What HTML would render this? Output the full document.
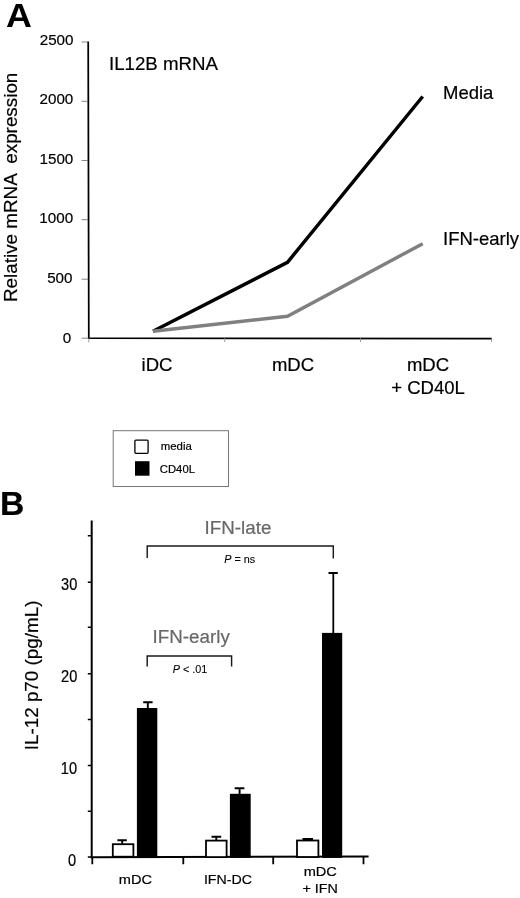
<!DOCTYPE html>
<html><head><meta charset="utf-8">
<style>
html,body{margin:0;padding:0;background:#fff;}
svg{display:block;}
text{font-family:"Liberation Sans",sans-serif;fill:#000;stroke:#000;stroke-width:0.2px;}
.sm text{stroke-width:0.1px;}
</style></head>
<body>
<svg width="520" height="898" viewBox="0 0 520 898">
<rect width="520" height="898" fill="#fff"/>
<!-- Panel A -->
<text transform="translate(6,27) scale(1.07,1)" x="0" y="0" font-size="33.500" font-weight="bold" style="stroke:none">A</text>
<g stroke="#000" stroke-width="1.750" fill="none" stroke-linejoin="miter">
<path d="M88.200 41.600L88.800 338.100L492 338.600"/>
</g>
<g stroke="#666" stroke-width="0.800" fill="none">
<path d="M81.500 42H88M81.500 101.300H88M81.500 160.500H88M81.500 219.700H88M81.700 279.200H88.300M81.700 338.200H88.300"/>
<path d="M88.800 338V342.500M224.700 338V342M360.500 338V342M491.500 338V342" stroke="#888"/>
</g>
<g font-size="15.200" text-anchor="end">
<text x="73.500" y="45">2500</text>
<text x="73.300" y="104.300">2000</text>
<text x="73.300" y="163.700">1500</text>
<text x="73.100" y="223.200">1000</text>
<text x="72.500" y="283">500</text>
<text x="71.300" y="342.500">0</text>
</g>
<text x="109" y="69.600" font-size="18.700">IL12B mRNA</text>
<text transform="translate(16.800,302) rotate(-90)" font-size="18.850" xml:space="preserve">Relative mRNA  expression</text>
<polyline points="153,331.300 287.500,262.300 422.700,96.500" fill="none" stroke="#000" stroke-width="3.450"/>
<polyline points="153,331.300 287.500,316.300 422.700,243.700" fill="none" stroke="#808080" stroke-width="3.450"/>
<text x="443" y="99.200" font-size="18.500">Media</text>
<text x="443" y="245" font-size="18.500">IFN-early</text>
<g font-size="18.500" text-anchor="middle">
<text x="157" y="371">iDC</text>
<text x="293" y="371">mDC</text>
<text x="428" y="371">mDC</text>
<text x="428" y="394.200">+ CD40L</text>
</g>
<!-- Legend -->
<rect x="113.200" y="430.700" width="115.300" height="55.800" fill="#fff" stroke="#777" stroke-width="1"/>
<rect x="134.900" y="440.100" width="13.200" height="13.200" rx="1" fill="#fff" stroke="#000" stroke-width="1.300"/>
<rect x="135" y="461.200" width="14.500" height="14.500" fill="#000"/>
<text x="160.800" y="450.300" font-size="11.400">media</text>
<text x="159.800" y="473.400" font-size="11.300">CD40L</text>
<!-- Panel B -->
<text x="0" y="515" font-size="33.700" font-weight="bold">B</text>
<g stroke="#000" stroke-width="2" fill="none">
<path d="M91.700 520.400V858.300"/>
<path d="M90.700 857.200L368.600 856.600"/>
</g>
<g stroke="#000" stroke-width="1.500" fill="none">
<path d="M87.800 535.700H91M87.800 582.300H91M87.800 627.300H91M87.800 673.700H91M87.800 719.400H91M87.800 765.500H91M87.800 811.200H91M87.800 857H91"/>
<path d="M92.300 857V864.200M183.300 857V864.200M273.200 857V864.200M363.500 857V864.200" stroke-width="1.800"/>
</g>
<g font-size="15.700" text-anchor="end">
<text transform="translate(77.300,589.800) scale(0.930,1)">30</text>
<text transform="translate(77.300,682) scale(0.930,1)">20</text>
<text transform="translate(77,773.600) scale(0.930,1)">10</text>
<text transform="translate(76.200,865.600) scale(0.930,1)">0</text>
</g>
<text transform="translate(38.300,750.300) rotate(-90)" font-size="18.850">IL-12 p70 (pg/mL)</text>
<!-- bars -->
<g stroke="#000" stroke-width="1.900" fill="none">
<path d="M122.200 844V840.200M117.400 840.200H126.800"/>
<path d="M147.800 708V702.300M143.200 702.300H152.600"/>
<path d="M216.300 840V836.800M211.500 836.800H221.200"/>
<path d="M239.600 795V788.300M234.700 788.300H244.400"/>
<path d="M302.500 839H313" stroke-width="2"/>
<path d="M333.300 634V573M328.500 573H337.800" stroke-width="1.800"/>
</g>
<g stroke="#000" stroke-width="1.800" fill="#fff">
<rect x="112.800" y="844.200" width="20.600" height="12.500"/>
<rect x="206" y="840.600" width="20.600" height="16.500"/>
<rect x="297" y="840.500" width="21.400" height="16.500"/>
</g>
<rect x="136.900" y="708" width="20.400" height="149.800" fill="#000"/>
<rect x="229.900" y="793.800" width="20.800" height="64" fill="#000"/>
<rect x="322" y="632.900" width="20.200" height="225" fill="#000"/>
<!-- brackets -->
<g stroke="#1a1a1a" stroke-width="1.450" fill="none">
<path d="M147.200 558V546H333.300V558.500"/>
<path d="M147.200 666.500V656H231.600V666.500"/>
</g>
<g font-size="18.800" text-anchor="middle">
<text x="238" y="533.500" style="fill:#686868;stroke:#686868">IFN-late</text>
<text x="191.200" y="643.300" style="fill:#686868;stroke:#686868">IFN-early</text>
</g>
<g class="sm" font-size="10.800" text-anchor="middle">
<text x="239.800" y="563"><tspan font-style="italic">P</tspan> = ns</text>
<text x="190" y="672.700"><tspan font-style="italic">P</tspan> &lt; .01</text>
</g>
<g font-size="13.700">
<text x="118.800" y="884.400" textLength="33.200" lengthAdjust="spacingAndGlyphs">mDC</text>
<text x="203.900" y="884.400" textLength="48.100" lengthAdjust="spacingAndGlyphs">IFN-DC</text>
<text x="303.700" y="875.900" font-size="13.400" textLength="33.200" lengthAdjust="spacingAndGlyphs">mDC</text>
<text x="302.500" y="893.300" font-size="13.400" textLength="35.500" lengthAdjust="spacingAndGlyphs">+ IFN</text>
</g>
</svg>
</body></html>
